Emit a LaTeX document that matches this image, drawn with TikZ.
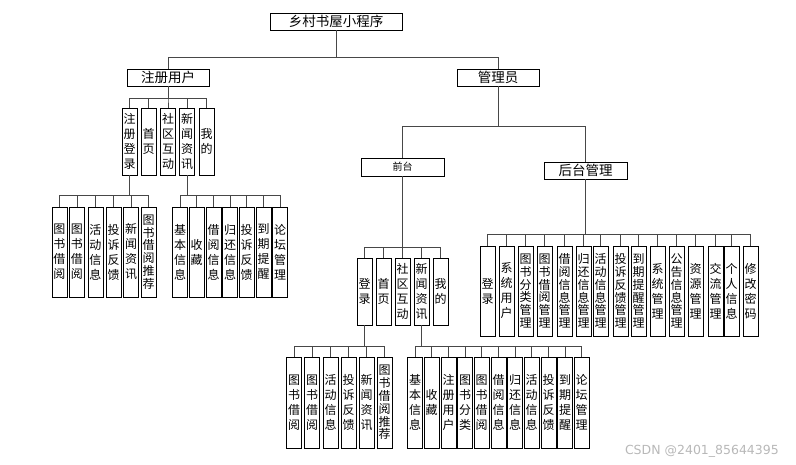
\documentclass[tikz,border=0pt]{standalone}
\usepackage{fontspec}
\setmainfont{Noto Sans CJK SC}
\newfontfamily\wmfont{DejaVu Sans}
\begin{document}
\begin{tikzpicture}[x=1pt,y=-1pt,
  hb/.style={draw=black, line width=0.9pt, inner sep=0pt, minimum width=82pt, minimum height=17pt, font=\fontsize{13.5}{15}\selectfont},
  vb/.style={draw=black, line width=0.9pt, inner sep=0pt, minimum width=15pt, text width=15pt, align=center, font=\fontsize{12}{15}\selectfont},
  vbs/.style={vb, font=\fontsize{12}{12.8}\selectfont},
  ln/.style={draw=black!72, line width=0.8pt}]
\useasboundingbox (0,0) rectangle (796,464);

% level 0 and 1
\node[hb, minimum width=132pt] (root) at (336,21.5) {乡村书屋小程序};
\node[hb] (u) at (168,77.5) {注册用户};
\node[hb] (m) at (498,77.5) {管理员};

% registered user row
\foreach \n/\x/\t in {u1/129.5/{注\\册\\登\\录}, u2/148.5/{首\\页}, u3/168/{社\\区\\互\\动}, u4/187/{新\\闻\\资\\讯}, u5/206.5/{我\\的}}
  \node[vb, minimum height=67pt] (\n) at (\x,141.5) {\t};

% under 注册登录
\foreach \n/\x/\t in {a1/59.5/{图\\书\\借\\阅}, a2/77/{图\\书\\借\\阅}, a3/95.5/{活\\动\\信\\息}, a4/113.5/{投\\诉\\反\\馈}, a5/131/{新\\闻\\资\\讯}}
  \node[vb, minimum height=90pt] (\n) at (\x,252) {\t};
\node[vbs, minimum height=90pt] (a6) at (148.5,252) {图\\书\\借\\阅\\推\\荐};

% under 新闻资讯
\foreach \n/\x/\t in {b1/180/{基\\本\\信\\息}, b2/196.5/{收\\藏}, b3/213.5/{借\\阅\\信\\息}, b4/230/{归\\还\\信\\息}, b5/246.5/{投\\诉\\反\\馈}, b6/263.5/{到\\期\\提\\醒}, b7/280/{论\\坛\\管\\理}}
  \node[vb, minimum height=90pt] (\n) at (\x,252) {\t};

% admin
\node[hb, minimum width=83pt, minimum height=18pt, font=\fontsize{10}{12}\selectfont] (f) at (402.5,167) {前台};
\node[hb, minimum width=83pt] (g) at (585.5,170.5) {后台管理};

% front row
\foreach \n/\x/\t in {f1/364.5/{登\\录}, f2/383.5/{首\\页}, f3/402.5/{社\\区\\互\\动}, f4/421.5/{新\\闻\\资\\讯}, f5/440.5/{我\\的}}
  \node[vb, minimum height=67pt] (\n) at (\x,291.5) {\t};

% under front 登录
\foreach \n/\x/\t in {c1/294/{图\\书\\借\\阅}, c2/312/{图\\书\\借\\阅}, c3/330.5/{活\\动\\信\\息}, c4/348.5/{投\\诉\\反\\馈}, c5/366.5/{新\\闻\\资\\讯}}
  \node[vb, minimum height=91pt] (\n) at (\x,402.5) {\t};
\node[vbs, minimum height=91pt] (c6) at (384.5,402.5) {图\\书\\借\\阅\\推\\荐};

% under front 新闻资讯
\foreach \n/\x/\t in {d1/415/{基\\本\\信\\息}, d2/431.5/{收\\藏}, d3/448.5/{注\\册\\用\\户}, d4/465/{图\\书\\分\\类}, d5/481.5/{图\\书\\借\\阅}, d6/498.5/{借\\阅\\信\\息}, d7/515/{归\\还\\信\\息}, d8/531.5/{活\\动\\信\\息}, d9/548.5/{投\\诉\\反\\馈}, d10/565/{到\\期\\提\\醒}, d11/581.5/{论\\坛\\管\\理}}
  \node[vb, minimum height=91pt] (\n) at (\x,402.5) {\t};

% back-end row
\foreach \n/\x/\t in {e1/487.5/{登\\录}, e2/506.5/{系\\统\\用\\户}, e10/657.5/{系\\统\\管\\理}, e12/695.5/{资\\源\\管\\理}, e13/715.5/{交\\流\\管\\理}, e14/731.5/{个\\人\\信\\息}, e15/750.5/{修\\改\\密\\码}}
  \node[vb, minimum height=90pt] (\n) at (\x,291) {\t};
\foreach \n/\x/\t in {e3/525.5/{图\\书\\分\\类\\管\\理}, e4/544.5/{图\\书\\借\\阅\\管\\理}, e5/564.5/{借\\阅\\信\\息\\管\\理}, e6/583.5/{归\\还\\信\\息\\管\\理}, e7/600.5/{活\\动\\信\\息\\管\\理}, e8/620.5/{投\\诉\\反\\馈\\管\\理}, e9/638.5/{到\\期\\提\\醒\\管\\理}, e11/676.5/{公\\告\\信\\息\\管\\理}}
  \node[vbs, minimum height=90pt] (\n) at (\x,291) {\t};

% bar heights
\coordinate (y0) at (0,57);
\coordinate (yu) at (0,98);
\coordinate (ya) at (0,195.5);
\coordinate (ym) at (0,126);
\coordinate (yf) at (0,247);
\coordinate (yc) at (0,346);
\coordinate (ye) at (0,234);

% connectors
\foreach \c in {u,m} \draw[ln] (root.south) -- (root.south |- y0) -| (\c.north);
\foreach \c in {u1,u2,u3,u4,u5} \draw[ln] (u.south) -- (u.south |- yu) -| (\c.north);
\foreach \c in {a1,a2,a3,a4,a5,a6} \draw[ln] (u1.south) -- (u1.south |- ya) -| (\c.north);
\foreach \c in {b1,b2,b3,b4,b5,b6,b7} \draw[ln] (u4.south) -- (u4.south |- ya) -| (\c.north);
\foreach \c in {f,g} \draw[ln] (m.south) -- (m.south |- ym) -| (\c.north);
\foreach \c in {f1,f2,f3,f4,f5} \draw[ln] (f.south) -- (f.south |- yf) -| (\c.north);
\foreach \c in {c1,c2,c3,c4,c5,c6} \draw[ln] (f1.south) -- (f1.south |- yc) -| (\c.north);
\foreach \c in {d1,d2,d3,d4,d5,d6,d7,d8,d9,d10,d11} \draw[ln] (f4.south) -- (f4.south |- yc) -| (\c.north);
\foreach \c in {e1,e2,e3,e4,e5,e6,e7,e8,e9,e10,e11,e12,e13,e14,e15} \draw[ln] (g.south) -- (g.south |- ye) -| (\c.north);

% watermark
\node[text=black!28, font=\wmfont\fontsize{12.5}{14}\selectfont, anchor=east, inner sep=0pt] (wm) at (779,451) {CSDN @2401\_85644395};
\end{tikzpicture}
\end{document}
